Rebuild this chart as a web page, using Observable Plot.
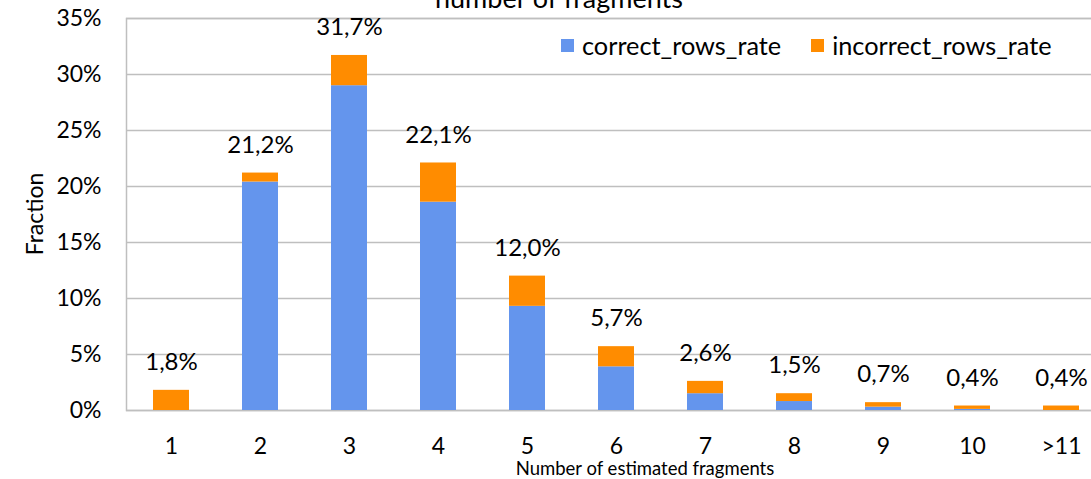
<!DOCTYPE html>
<html>
<head>
<meta charset="utf-8">
<script src="https://cdn.jsdelivr.net/npm/d3@7"></script>
<script src="https://cdn.jsdelivr.net/npm/@observablehq/plot@0.6"></script>
<style>
  html, body { margin: 0; padding: 0; background: #fff; overflow: hidden; }
  #wrap { position: relative; width: 1091px; height: 479px; overflow: hidden; font-family: Lato, sans-serif; color: #000; }
  #chart { position: absolute; left: 0; top: 0; width: 1105px; }
  #chart svg { max-width: none !important; }
  .title { position: absolute; left: 0; width: 1118px; top: -16px; text-align: center; font-size: 27px; line-height: 27px; white-space: nowrap; }
  .ylab { position: absolute; left: 34px; top: 214px; font-size: 23px; line-height: 23px; transform: translate(-50%, -50%) rotate(-90deg); white-space: nowrap; }
  .xlab { position: absolute; left: 645px; top: 459px; font-size: 18.5px; line-height: 18.5px; transform: translateX(-50%); white-space: nowrap; }
  .legend { position: absolute; top: 31px; left: 561px; display: flex; align-items: center; font-size: 25.3px; line-height: 28px; white-space: nowrap; }
  .legend .item { display: flex; align-items: center; }
  .legend .sw { width: 13px; height: 13px; margin-right: 8px; }
</style>
</head>
<body>
<div id="wrap">
  <div id="chart"></div>
  <div class="title">number of fragments</div>
  <div class="ylab">Fraction</div>
  <div class="xlab">Number of estimated fragments</div>
  <div class="legend" id="legend"></div>
</div>
<script>
// Estimated fragment counts and the share of rows in each, split by correctness (percent)
const categories = ["1", "2", "3", "4", "5", "6", "7", "8", "9", "10", ">11"];
const totalRate = [1.8, 21.2, 31.7, 22.1, 12.0, 5.7, 2.6, 1.5, 0.7, 0.4, 0.4];
const correctRate = [0.0, 20.4, 29.0, 18.6, 9.3, 3.9, 1.5, 0.8, 0.3, 0.1, 0.0];
const yTicks = [0, 5, 10, 15, 20, 25, 30, 35];
const seriesNames = ["correct_rows_rate", "incorrect_rows_rate"];
const seriesColors = ["#6495ED", "#FF8C00"];

// Long table for the stacked bars; the incorrect part fills up to the labelled total
const rows = [];
categories.forEach((cat, i) => {
  rows.push({ cat, series: seriesNames[0], value: correctRate[i] });
  rows.push({ cat, series: seriesNames[1], value: Math.round((totalRate[i] - correctRate[i]) * 10) / 10 });
});

const fmtPct = v => v.toFixed(1).replace(".", ",") + "%";
const gridColor = "#bfbfbf";

const chart = Plot.plot({
  width: 1105,
  height: 479,
  marginLeft: 126,
  marginRight: 0,
  marginTop: 18,
  marginBottom: 69,
  style: { fontFamily: "Lato, sans-serif", fontSize: "23px", color: "#000", background: "transparent", overflow: "visible", maxWidth: "none" },
  x: { domain: categories, paddingInner: 0.6, paddingOuter: 0.3, label: null, tickSize: 0, tickPadding: 27 },
  y: { domain: [0, 35], ticks: yTicks, tickFormat: d => d + "%", label: null, tickSize: 0, tickPadding: 25 },
  color: { domain: seriesNames, range: seriesColors },
  marks: [
    Plot.ruleY(yTicks, { stroke: gridColor, strokeWidth: 1.5 }),
    Plot.frame({ stroke: gridColor, strokeWidth: 1.5 }),
    Plot.barY(rows, { x: "cat", y: "value", fill: "series", order: seriesNames }),
    Plot.text(categories, {
      x: d => d,
      y: (d, i) => totalRate[i],
      text: (d, i) => fmtPct(totalRate[i]),
      dy: -28,
      fontSize: 24,
      fill: "#000"
    })
  ]
});
document.getElementById("chart").appendChild(chart);

// Legend
const legend = document.getElementById("legend");
seriesNames.forEach((name, i) => {
  const item = document.createElement("div");
  item.className = "item";
  item.style.marginRight = i === 0 ? "30px" : "0";
  const sw = document.createElement("div");
  sw.className = "sw";
  sw.style.background = seriesColors[i];
  const label = document.createElement("span");
  label.textContent = name;
  item.appendChild(sw);
  item.appendChild(label);
  legend.appendChild(item);
});
</script>
</body>
</html>
